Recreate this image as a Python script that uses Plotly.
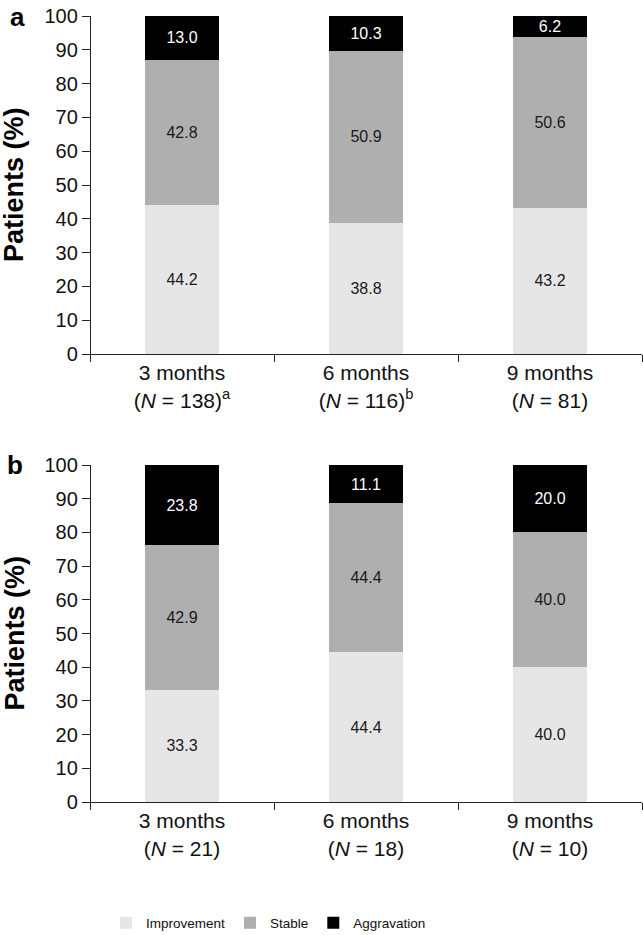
import plotly.graph_objects as go
from plotly.subplots import make_subplots

# ---- data ----
categories = ["3 months", "6 months", "9 months"]
n_labels_a = ["(<i>N</i> = 138)<sup>a</sup>", "(<i>N</i> = 116)<sup>b</sup>", "(<i>N</i> = 81)"]
n_labels_b = ["(<i>N</i> = 21)", "(<i>N</i> = 18)", "(<i>N</i> = 10)"]
series_names = ["Improvement", "Stable", "Aggravation"]

improvement_a = [44.2, 38.8, 43.2]
stable_a = [42.8, 50.9, 50.6]
aggravation_a = [13.0, 10.3, 6.2]

improvement_b = [33.3, 44.4, 40.0]
stable_b = [42.9, 44.4, 40.0]
aggravation_b = [23.8, 11.1, 20.0]

y_ticks = [0, 10, 20, 30, 40, 50, 60, 70, 80, 90, 100]

# ---- style ----
FONT = "Liberation Sans, Arial, Helvetica, sans-serif"
colors = ["#e6e6e6", "#afafaf", "#000000"]
text_colors = ["#1a1a1a", "#1a1a1a", "#ffffff"]

W, H = 643, 935
L, R, T = 82, 1, 16
BOT = 802  # pixel of panel b baseline
B = H - BOT
plot_w = W - L - R
plot_h = H - T - B
cat_px = 184.0
y_axis_px = 90 - L  # y axis offset from plot area left edge

x_pos = [0.5, 1.5, 2.5]
xmin = -y_axis_px / cat_px

fig = make_subplots(rows=2, cols=1)

panels = [
    (1, [improvement_a, stable_a, aggravation_a], n_labels_a),
    (2, [improvement_b, stable_b, aggravation_b], n_labels_b),
]

for row, vals, nlabs in panels:
    for i, (name, v) in enumerate(zip(series_names, vals)):
        fig.add_trace(
            go.Bar(
                x=x_pos, y=v, name=name, width=0.4,
                marker=dict(color=colors[i], line=dict(width=0)),
                texttemplate="%{y:.1f}", textposition="inside",
                insidetextanchor="middle", textangle=0,
                textfont=dict(family=FONT, size=16, color=text_colors[i]),
                constraintext="none",
                showlegend=(row == 1), legendgroup=name,
                hoverinfo="skip",
            ),
            row=row, col=1,
        )

fig.update_layout(barmode="stack")

dom_a = [(BOT - 354) / plot_h, 1.0]
dom_b = [0.0, (BOT - 465) / plot_h]
ypos = y_axis_px / plot_w

for row, dom, nlabs in [(1, dom_a, n_labels_a), (2, dom_b, n_labels_b)]:
    xa = "xaxis" if row == 1 else "xaxis2"
    ya = "yaxis" if row == 1 else "yaxis2"
    fig.layout[xa].update(
        domain=[0, 1], range=[xmin, 3],
        tickvals=x_pos,
        ticktext=[f"{c}<br>{n}" for c, n in zip(categories, nlabs)],
        ticks="",
        tickfont=dict(family=FONT, size=21, color="#111"),
        showline=True, linecolor="#222", linewidth=1.3,
        showgrid=False, zeroline=False, automargin=False,
        minor=dict(tickvals=[0, 1, 2, 3], ticks="outside", ticklen=7,
                   tickcolor="#222", tickwidth=1.3, showgrid=False),
    )
    fig.layout[ya].update(
        domain=dom, range=[0, 100], anchor="free", position=ypos,
        tickvals=y_ticks, ticks="outside", ticklen=8, tickwidth=1.3,
        tickcolor="#222",
        tickfont=dict(family=FONT, size=20, color="#111"),
        showline=True, linecolor="#222", linewidth=1.3,
        showgrid=False, zeroline=False, automargin=False,
    )

annotations = []
for row, dom in [(1, dom_a), (2, dom_b)]:
    annotations.append(dict(
        text="<b>Patients (%)</b>", textangle=-90,
        xref="paper", yref="paper",
        x=(14 - L) / plot_w, y=(dom[0] + dom[1]) / 2,
        xanchor="center", yanchor="middle", showarrow=False,
        font=dict(family=FONT, size=27, color="#000"),
    ))
annotations.append(dict(text="<b>a</b>", xref="paper", yref="paper",
                        x=(17 - L) / plot_w, y=(BOT - 17) / plot_h,
                        xanchor="center", yanchor="middle", showarrow=False,
                        font=dict(family=FONT, size=26, color="#000")))
annotations.append(dict(text="<b>b</b>", xref="paper", yref="paper",
                        x=(15 - L) / plot_w, y=(BOT - 465) / plot_h,
                        xanchor="center", yanchor="middle", showarrow=False,
                        font=dict(family=FONT, size=26, color="#000")))

fig.update_layout(
    width=W, height=H,
    margin=dict(l=L, r=R, t=T, b=B, autoexpand=False),
    paper_bgcolor="white", plot_bgcolor="white",
    annotations=annotations,
    legend=dict(orientation="h", x=(106 - L) / plot_w, xanchor="left",
                y=-(923 - BOT) / plot_h, yanchor="middle",
                font=dict(family=FONT, size=13.5, color="#111"),
                traceorder="normal", itemwidth=30),
    uniformtext=dict(mode=False),
)

fig.write_html(
    "out.html",
    config={"displayModeBar": False},
    post_script="document.body.style.margin='0px';document.body.style.overflow='hidden';",
)
